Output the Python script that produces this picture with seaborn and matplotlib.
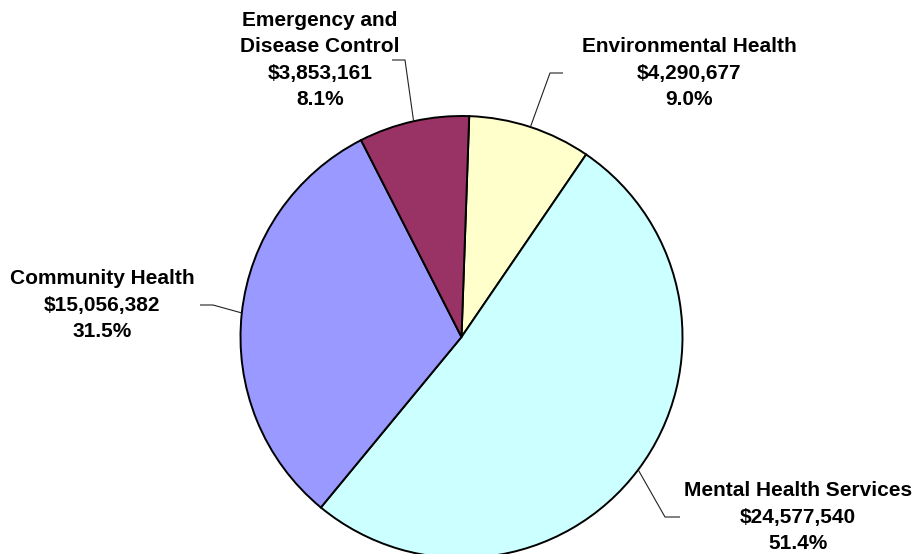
import numpy as np
import matplotlib
matplotlib.use("Agg")
import matplotlib.pyplot as plt
import seaborn as sns

sns.set_theme(style="white")
plt.rcParams['font.family'] = ['Liberation Sans', 'DejaVu Sans']

# Data (clockwise from 12 o'clock)
categories = ["Environmental Health", "Mental Health Services", "Community Health",
              "Emergency and\nDisease Control"]
values = [4290677, 24577540, 15056382, 3853161]
colors = ["#FFFFCC", "#CCFFFF", "#9999FF", "#993366"]

W, H = 917, 554
fig = plt.figure(figsize=(W / 100, H / 100), dpi=100)
ax = fig.add_axes([0, 0, 1, 1])

cx, cy, r = 461.5, H - 337, 221
wedges, _ = ax.pie(values, colors=colors, startangle=88, counterclock=False,
                   center=(cx, cy), radius=r,
                   wedgeprops=dict(edgecolor="black", linewidth=1.4))
ax.set_xlim(0, W)
ax.set_ylim(0, H)
ax.set_aspect("equal")
ax.axis("off")

total = sum(values)
# label layout: (elbow px, end px, text center px)
layout = [
    ((550, 73), (563, 73), (689, 73)),
    ((665, 517), (680, 517), (798, 517)),
    ((213, 305), (200, 305), (102, 305)),
    ((405, 60), (392, 60), (320, 60)),
]
for w, cat, v, (elb, end, tc) in zip(wedges, categories, values, layout):
    ang = np.deg2rad((w.theta1 + w.theta2) / 2)
    ax_x = cx + r * np.cos(ang)
    ax_y = cy + r * np.sin(ang)
    xs = [ax_x, elb[0], end[0]]
    ys = [ax_y, H - elb[1], H - end[1]]
    ax.plot(xs, ys, color="#222222", lw=0.8, solid_capstyle="butt")
    label = f"{cat}\n${v:,.0f}\n{v / total * 100:.1f}%"
    ax.text(tc[0], H - tc[1], label, ha="center", va="center",
            multialignment="center", fontsize=15, fontweight="bold",
            linespacing=1.5, color="black")

fig.savefig("out.png", dpi=100, facecolor="white")
